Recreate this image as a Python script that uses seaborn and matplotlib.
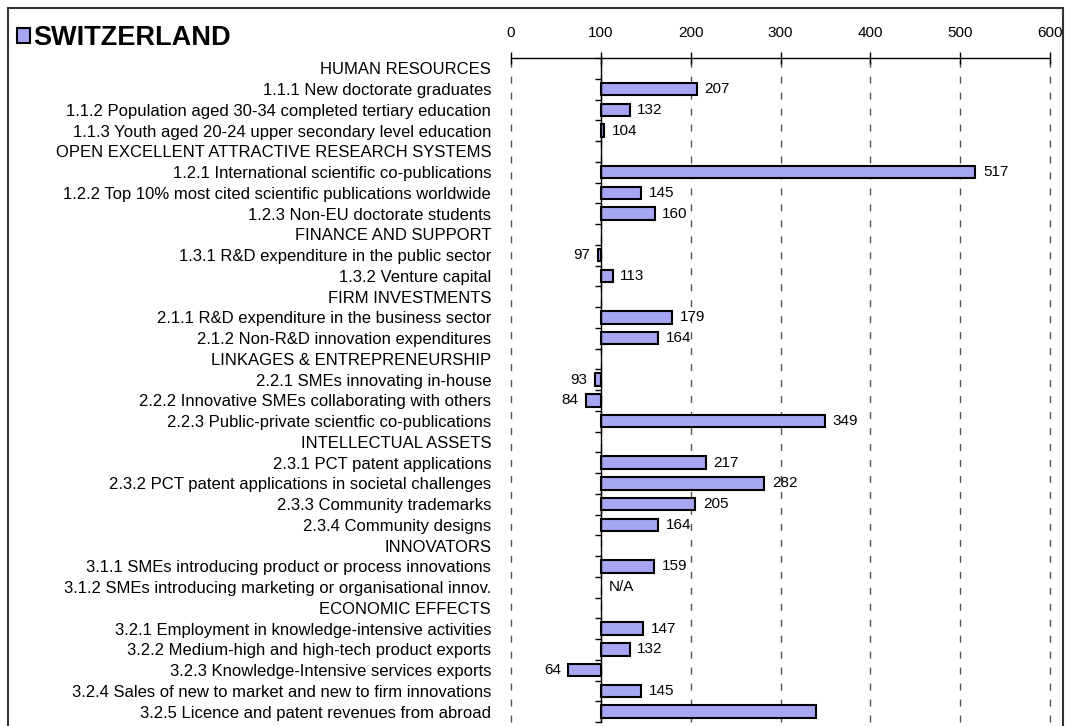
import numpy as np
import pandas as pd
import seaborn as sns
import matplotlib.pyplot as plt
from matplotlib.patches import Rectangle

# rows from top to bottom, section headers have no score
rows = [
    "HUMAN RESOURCES",
    "1.1.1 New doctorate graduates",
    "1.1.2 Population aged 30-34 completed tertiary education",
    "1.1.3 Youth aged 20-24 upper secondary level education",
    "OPEN EXCELLENT ATTRACTIVE RESEARCH SYSTEMS",
    "1.2.1 International scientific co-publications",
    "1.2.2 Top 10% most cited scientific publications worldwide",
    "1.2.3 Non-EU doctorate students",
    "FINANCE AND SUPPORT",
    "1.3.1 R&D expenditure in the public sector",
    "1.3.2 Venture capital",
    "FIRM INVESTMENTS",
    "2.1.1 R&D expenditure in the business sector",
    "2.1.2 Non-R&D innovation expenditures",
    "LINKAGES & ENTREPRENEURSHIP",
    "2.2.1 SMEs innovating in-house",
    "2.2.2 Innovative SMEs collaborating with others",
    "2.2.3 Public-private scientfic co-publications",
    "INTELLECTUAL ASSETS",
    "2.3.1 PCT patent applications",
    "2.3.2 PCT patent applications in societal challenges",
    "2.3.3 Community trademarks",
    "2.3.4 Community designs",
    "INNOVATORS",
    "3.1.1 SMEs introducing product or process innovations",
    "3.1.2 SMEs introducing marketing or organisational innov.",
    "ECONOMIC EFFECTS",
    "3.2.1 Employment in knowledge-intensive activities",
    "3.2.2 Medium-high and high-tech product exports",
    "3.2.3 Knowledge-Intensive services exports",
    "3.2.4 Sales of new to market and new to firm innovations",
    "3.2.5 Licence and patent revenues from abroad",
]
scores = [None, 207, 132, 104,
          None, 517, 145, 160,
          None, 97, 113,
          None, 179, 164,
          None, 93, 84, 349,
          None, 217, 282, 205, 164,
          None, 159, None,
          None, 147, 132, 64, 145, 339]
na_rows = ["3.1.2 SMEs introducing marketing or organisational innov."]
unlabelled_rows = ["3.2.5 Licence and patent revenues from abroad"]
country = "SWITZERLAND"
baseline = 100
x_ticks = [0, 100, 200, 300, 400, 500, 600]

df = pd.DataFrame({"indicator": rows, "score": scores}).dropna()
df["diff"] = df["score"] - baseline

sns.set_style("white")
plt.rcParams["font.family"] = ["Liberation Sans", "DejaVu Sans"]
plt.rcParams.update({"text.color": "black", "xtick.color": "black",
                     "ytick.color": "black", "axes.labelcolor": "black"})

fig = plt.figure(figsize=(10.66, 7.26), dpi=100)
ax = fig.add_axes([511 / 1066, 4 / 726, (1050 - 511) / 1066, (722 - 58) / 726])

sns.barplot(data=df, x="diff", y="indicator", order=rows, orient="h",
            color="#9999FF", edgecolor="black", linewidth=1.5, width=0.6,
            errorbar=None, left=baseline, label=country, ax=ax)
if ax.get_legend() is not None:
    ax.get_legend().remove()

ax.set_xlim(x_ticks[0], x_ticks[-1])
ax.set_ylim(len(rows) - 0.5, -0.5)
ax.set_xticks(x_ticks)
ax.xaxis.tick_top()
ax.tick_params(axis="x", direction="inout", length=8.6, width=1, color="black",
               labelsize=11, pad=9)
ax.set_xlabel("")
ax.set_ylabel("")

# y axis drawn at the baseline, labels pushed left to the plot edge
ax.spines["left"].set_position(("data", baseline))
for s in ["right", "bottom"]:
    ax.spines[s].set_visible(False)
for s in ["left", "top"]:
    ax.spines[s].set_color("black")
    ax.spines[s].set_linewidth(1)
ax.set_yticks(np.arange(-0.5, len(rows), 1), minor=True)
ax.tick_params(axis="y", which="major", length=0, pad=79, labelsize=12)
ax.tick_params(axis="y", which="minor", left=True, length=4, width=1,
               direction="out", color="black")

ax.grid(axis="x", linestyle=(0, (5, 6.5)), color="#555555", linewidth=1)
for gl in ax.get_xgridlines():
    gl.set_clip_on(False)
ax.set_axisbelow(True)

for i, (name, val) in enumerate(zip(rows, scores)):
    if name in na_rows:
        ax.annotate("N/A", (baseline, i), xytext=(6, 0), textcoords="offset points",
                    ha="left", va="center", fontsize=11)
    elif val is not None and name not in unlabelled_rows:
        off = 5.5 if val >= baseline else -5.5
        ax.annotate(str(val), (val, i), xytext=(off, 0), textcoords="offset points",
                    ha="left" if val >= baseline else "right", va="center", fontsize=11)

handles, labels = ax.get_legend_handles_labels()
fig.legend(handles[:1], labels[:1], loc="upper left",
           bbox_to_anchor=(17 / 1066, 1 - 25 / 726), frameon=False, borderpad=0,
           borderaxespad=0, handlelength=0.48, handleheight=0.48, handletextpad=0.12,
           prop={"weight": "bold", "size": 19.5})

fig.patches.append(Rectangle((8 / 1066, -0.1), (1063 - 8) / 1066, 1.1 - 8 / 726,
                             transform=fig.transFigure, fill=False,
                             edgecolor="#333333", linewidth=1.5))

fig.savefig("out.png", dpi=100)
